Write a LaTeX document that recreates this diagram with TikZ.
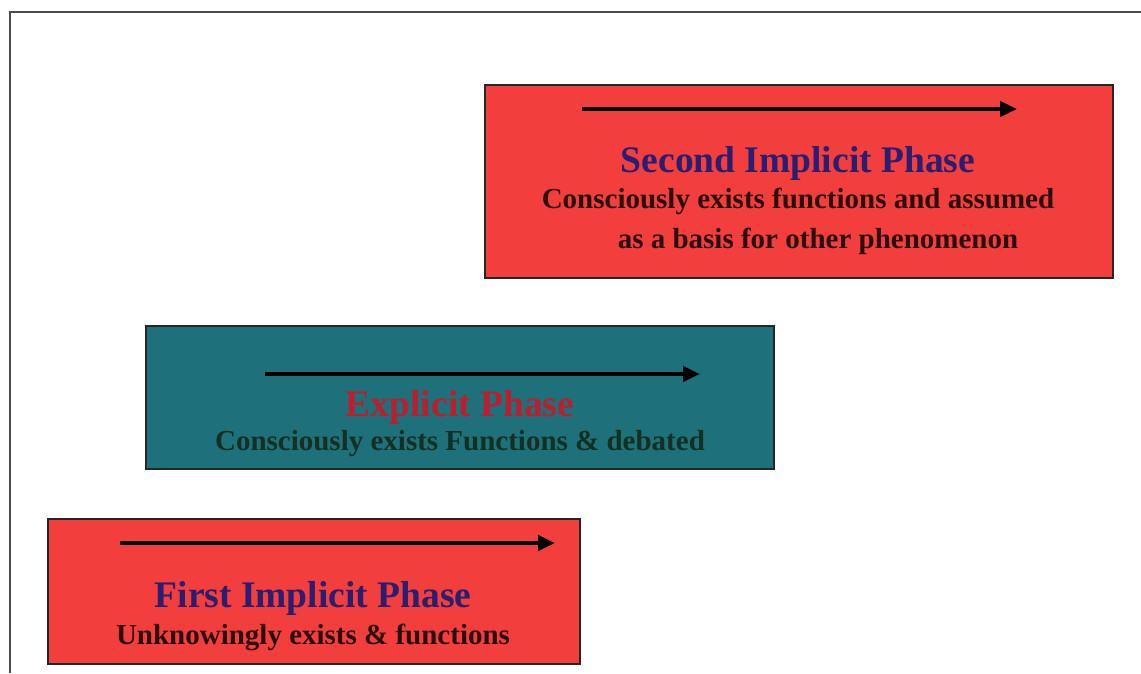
\documentclass[tikz,border=0pt]{standalone}
\usepackage{fontspec}
\setmainfont{Liberation Serif}
\usepackage{tikz}
\usetikzlibrary{arrows.meta}
\definecolor{boxred}{RGB}{242,62,60}
\definecolor{boxteal}{RGB}{30,112,122}
\definecolor{titleblue}{RGB}{42,30,112}
\definecolor{subdark}{RGB}{42,14,14}
\definecolor{titlered}{RGB}{188,30,45}
\definecolor{subgreen}{RGB}{20,48,34}
\begin{document}
\begin{tikzpicture}[x=1pt,y=-1pt,
  phasebox/.style={draw=black!85, line width=1.6pt, anchor=north west, inner sep=0pt},
  phasetitle/.style={anchor=base, font=\fontsize{37.5}{40}\selectfont\bfseries, inner sep=0pt},
  phasesub/.style={anchor=base, font=\fontsize{29}{40}\selectfont\bfseries, inner sep=0pt, align=center},
  timearrow/.style={line width=4.5pt, -{Triangle[length=17pt,width=15pt]}}]

\useasboundingbox (0,0) rectangle (1141,673);
\draw [black!70, line width=1.6pt] (10,673) -- (10,12) -- (1141,12);

\node [phasebox, fill=boxred, minimum width=628pt, minimum height=193pt] (second) at (484,84) {};
\node [phasebox, fill=boxteal, minimum width=628pt, minimum height=143pt] (explicit) at (145,325) {};
\node [phasebox, fill=boxred, minimum width=532pt, minimum height=145pt] (first) at (47,518) {};

\coordinate (secondA) at (582,109);
\coordinate (secondB) at (1017,109);
\coordinate (explicitA) at (265,374);
\coordinate (explicitB) at (700,374);
\coordinate (firstA) at (120,543);
\coordinate (firstB) at (555,543);
\draw [timearrow] (secondA) -- (secondB);
\draw [timearrow] (explicitA) -- (explicitB);
\draw [timearrow] (firstA) -- (firstB);

\node [phasetitle, titleblue] (secondT) at (798,172) {Second Implicit Phase};
\node [phasesub, subdark] (secondS1) at (798,208) {Consciously exists functions and assumed};
\node [phasesub, subdark] (secondS2) at (818,248) {as a basis for other phenomenon};

\node [phasetitle, titlered] (explicitT) at (460,416) {Explicit Phase};
\node [phasesub, subgreen] (explicitS) at (460,450) {Consciously exists Functions \& debated};

\node [phasetitle, titleblue] (firstT) at (313,607) {First Implicit Phase};
\node [phasesub, subdark] (firstS) at (313,644) {Unknowingly exists \& functions};

\end{tikzpicture}
\end{document}
